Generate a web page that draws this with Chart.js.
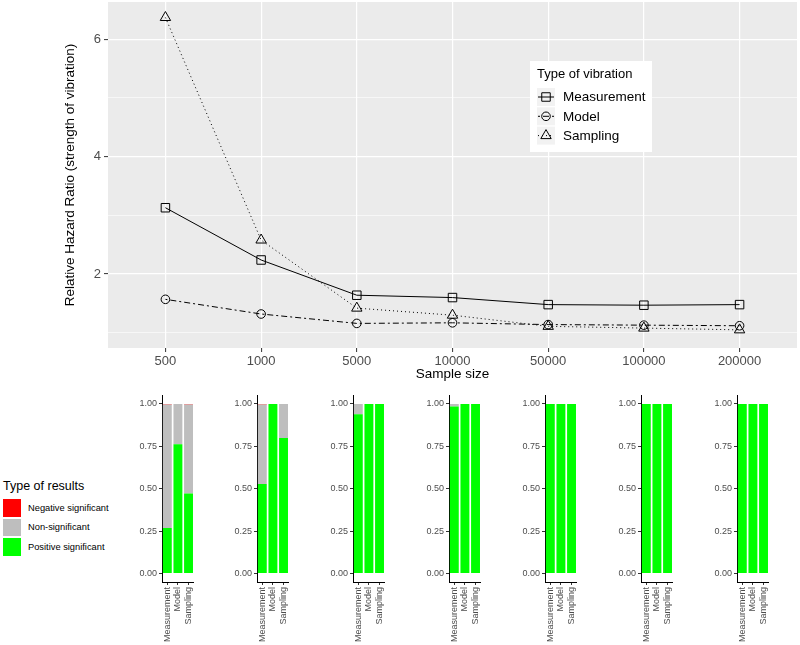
<!DOCTYPE html>
<html>
<head>
<meta charset="utf-8">
<script src="https://cdn.jsdelivr.net/npm/chart.js@4"></script>
<style>
  body { margin: 0; background: #fff; font-family: "Liberation Sans", Arial, sans-serif; }
  #wrap { position: relative; width: 800px; height: 645px; overflow: hidden; }
  canvas { position: absolute; }
  #resultsLegend { position: absolute; left: 3px; top: 478px; color: #000; }
  #resultsLegend .title { font-size: 12.5px; height: 20px; line-height: 16px; }
  #resultsLegend .row { height: 19.5px; display: flex; align-items: center; font-size: 9.3px; }
  #resultsLegend .sw { width: 18px; height: 17.5px; margin-right: 7px; }
</style>
</head>
<body>
<div id="wrap">
  <canvas id="mainChart" width="800" height="388" style="left:0;top:0"></canvas>
  <div id="resultsLegend"></div>
</div>
<script>
// Top panel: relative hazard ratio by sample size
const sampleSizes = ['500', '1000', '5000', '10000', '50000', '100000', '200000'];
const vibrationTypes = ['Measurement', 'Model', 'Sampling'];
const measurement = [3.13, 2.24, 1.64, 1.60, 1.48, 1.47, 1.48];
const model = [1.57, 1.32, 1.16, 1.17, 1.14, 1.13, 1.12];
const sampling = [6.37, 2.58, 1.42, 1.30, 1.11, 1.08, 1.05];
const yTicks = [1, 2, 3, 4, 5, 6];

// Bottom panels: share of results per vibration type (Measurement, Model, Sampling)
const resultTypes = ['Negative significant', 'Non-significant', 'Positive significant'];
const positive = [
  [0.268, 0.762, 0.471],
  [0.527, 1.0, 0.799],
  [0.939, 1.0, 1.0],
  [0.985, 1.0, 1.0],
  [1.0, 1.0, 1.0],
  [1.0, 1.0, 1.0],
  [1.0, 1.0, 1.0]
];
const nonSignificant = [
  [0.728, 0.238, 0.525],
  [0.469, 0.0, 0.201],
  [0.061, 0.0, 0.0],
  [0.015, 0.0, 0.0],
  [0.0, 0.0, 0.0],
  [0.0, 0.0, 0.0],
  [0.0, 0.0, 0.0]
];
const negative = [
  [0.004, 0.0, 0.004],
  [0.004, 0.0, 0.0],
  [0.0, 0.0, 0.0],
  [0.0, 0.0, 0.0],
  [0.0, 0.0, 0.0],
  [0.0, 0.0, 0.0],
  [0.0, 0.0, 0.0]
];
const propTicks = [0, 0.25, 0.5, 0.75, 1];

const FONT = '"Liberation Sans", Arial, sans-serif';
Chart.defaults.font.family = FONT;
Chart.defaults.animation = false;

const lineDashes = [[], [2, 3, 6, 3], [1, 3]];
const pointStyles = ['rect', 'circle', 'triangle'];
const pointRadii = [6, 4.3, 6];

// ggplot-like grey panel
const panelBackground = {
  id: 'panelBackground',
  beforeDraw(chart) {
    const a = chart.chartArea;
    chart.ctx.save();
    chart.ctx.fillStyle = '#EBEBEB';
    chart.ctx.fillRect(a.left, a.top, a.right - a.left, a.bottom - a.top);
    chart.ctx.restore();
  }
};

// legend box inside the panel
const vibrationLegend = {
  id: 'vibrationLegend',
  afterDraw(chart) {
    const ctx = chart.ctx;
    ctx.save();
    ctx.fillStyle = '#fff';
    ctx.fillRect(530, 61, 122, 91);
    ctx.fillStyle = '#000';
    ctx.textBaseline = 'middle';
    ctx.font = '13px ' + FONT;
    ctx.fillText('Type of vibration', 537, 74);
    vibrationTypes.forEach((name, i) => {
      const ky = 88 + i * 19.3;
      ctx.fillStyle = '#F2F2F2';
      ctx.fillRect(537, ky, 18, 18);
      ctx.strokeStyle = '#000';
      ctx.lineWidth = 1;
      ctx.setLineDash(lineDashes[i]);
      ctx.beginPath();
      ctx.moveTo(538, ky + 9);
      ctx.lineTo(554, ky + 9);
      ctx.stroke();
      ctx.setLineDash([]);
      ctx.fillStyle = 'rgba(0,0,0,0)';
      Chart.helpers.drawPoint(ctx, { pointStyle: pointStyles[i], radius: pointRadii[i], borderWidth: 1, rotation: 0 }, 546, ky + 9);
      ctx.fillStyle = '#000';
      ctx.font = '13.5px ' + FONT;
      ctx.fillText(name, 563, ky + 9.5);
    });
    ctx.restore();
  }
};

function makeLine(label, values, i) {
  return {
    label: label,
    data: values.map((v, k) => ({ x: k, y: v })),
    borderColor: '#000',
    borderWidth: 1,
    borderDash: lineDashes[i],
    tension: 0,
    pointStyle: pointStyles[i],
    pointRadius: pointRadii[i],
    pointBorderWidth: 1,
    pointBorderColor: '#000',
    pointBackgroundColor: 'rgba(0,0,0,0)'
  };
}

new Chart(document.getElementById('mainChart'), {
  type: 'line',
  data: {
    datasets: [
      makeLine('Measurement', measurement, 0),
      makeLine('Model', model, 1),
      makeLine('Sampling', sampling, 2)
    ]
  },
  options: {
    responsive: false,
    devicePixelRatio: 1,
    layout: { autoPadding: false, padding: { left: 62, top: 2, right: 3, bottom: 0 } },
    plugins: { legend: { display: false }, tooltip: { enabled: false } },
    scales: {
      x: {
        type: 'linear',
        min: -0.6,
        max: 6.6,
        afterBuildTicks: s => { s.ticks = sampleSizes.map((_, k) => ({ value: k })); },
        afterFit: s => { s.height = 40; s.paddingLeft = 0; s.paddingRight = 0; },
        ticks: {
          callback: v => sampleSizes[v],
          color: '#4D4D4D',
          font: { size: 13 },
          padding: 2,
          maxRotation: 0
        },
        grid: { color: '#fff', lineWidth: 1.2, tickColor: '#333', tickLength: 4, tickWidth: 1 },
        border: { display: false },
        title: { display: true, text: 'Sample size', color: '#000', font: { size: 13.5 }, padding: { top: 0, bottom: 6 } }
      },
      y: {
        type: 'linear',
        min: 0.741,
        max: 6.634,
        afterBuildTicks: s => { s.ticks = yTicks.map(v => ({ value: v })); },
        afterFit: s => { s.width = 46; s.paddingTop = 0; s.paddingBottom = 0; },
        ticks: {
          callback: v => (v % 2 === 0 ? String(v) : ''),
          color: '#4D4D4D',
          font: { size: 13 },
          padding: 3
        },
        grid: {
          color: '#fff',
          lineWidth: c => (c.tick && c.tick.value % 2 === 0 ? 1.2 : 0.6),
          tickColor: c => (c.tick && c.tick.value % 2 === 0 ? '#333' : 'rgba(0,0,0,0)'),
          tickLength: 4,
          tickWidth: 1
        },
        border: { display: false },
        title: { display: true, text: 'Relative Hazard Ratio (strength of vibration)', color: '#000', font: { size: 13.5 }, padding: { top: 0, bottom: 0 } }
      }
    }
  },
  plugins: [panelBackground, vibrationLegend]
});

// small stacked bar panels, one per sample size
const resultColors = { negative: '#FF0000', nonSignificant: '#BEBEBE', positive: '#00FF00' };
const wrap = document.getElementById('wrap');
sampleSizes.forEach((size, i) => {
  const axisX = Math.round(161.5 + 95.9 * i);
  const cv = document.createElement('canvas');
  cv.width = 84;
  cv.height = 257;
  cv.style.left = (axisX - 44) + 'px';
  cv.style.top = '388px';
  wrap.appendChild(cv);
  new Chart(cv, {
    type: 'bar',
    data: {
      labels: vibrationTypes,
      datasets: [
        { label: resultTypes[2], data: positive[i], backgroundColor: resultColors.positive },
        { label: resultTypes[1], data: nonSignificant[i], backgroundColor: resultColors.nonSignificant },
        { label: resultTypes[0], data: negative[i], backgroundColor: resultColors.negative }
      ]
    },
    options: {
      responsive: false,
      devicePixelRatio: 1,
      layout: { padding: { left: 0, top: 7, right: 4, bottom: 0 } },
      plugins: { legend: { display: false }, tooltip: { enabled: false } },
      datasets: { bar: { barPercentage: 0.84, categoryPercentage: 1, borderWidth: 0 } },
      scales: {
        x: {
          stacked: true,
          afterFit: s => { s.height = 63; },
          ticks: { color: '#4D4D4D', font: { size: 9 }, minRotation: 90, maxRotation: 90, autoSkip: false, padding: 2 },
          grid: { offset: false, drawOnChartArea: false, tickLength: 3, tickColor: '#333', tickWidth: 1 },
          border: { display: true, color: '#000', width: 1 }
        },
        y: {
          stacked: true,
          min: -0.05,
          max: 1.05,
          afterBuildTicks: s => { s.ticks = propTicks.map(v => ({ value: v })); },
          afterFit: s => { s.width = 44; },
          ticks: { callback: v => v.toFixed(2), color: '#4D4D4D', font: { size: 9 }, padding: 2 },
          grid: { drawOnChartArea: false, tickLength: 3, tickColor: '#333', tickWidth: 1 },
          border: { display: true, color: '#000', width: 1 }
        }
      }
    }
  });
});

// legend for the result types
const legendColors = [resultColors.negative, resultColors.nonSignificant, resultColors.positive];
const legendEl = document.getElementById('resultsLegend');
let html = '<div class="title">Type of results</div>';
resultTypes.forEach((name, k) => {
  html += '<div class="row"><div class="sw" style="background:' + legendColors[k] + '"></div><span>' + name + '</span></div>';
});
legendEl.innerHTML = html;
</script>
</body>
</html>
